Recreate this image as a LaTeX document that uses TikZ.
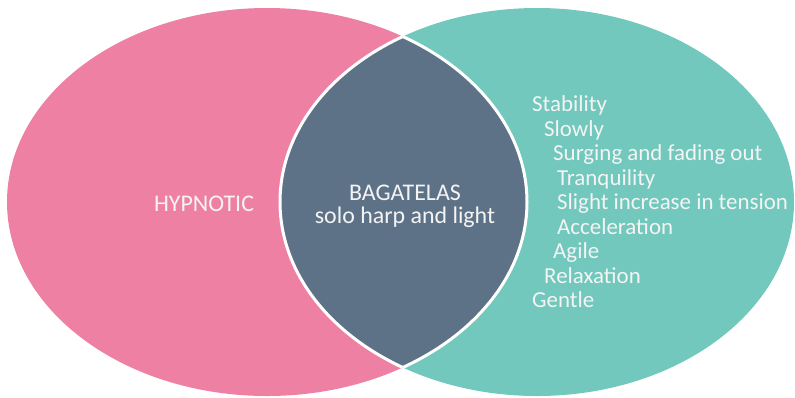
\documentclass[tikz,border=0pt]{standalone}
\usepackage{fontspec}
\setmainfont{Carlito}
\definecolor{pinkset}{HTML}{EE80A4}
\definecolor{tealset}{HTML}{72C8BC}
\definecolor{overlapset}{HTML}{5E7287}
\definecolor{labeltext}{HTML}{F4F4F4}
\begin{document}
\begin{tikzpicture}[x=1bp,y=-1bp,
  label/.style={text=labeltext,font=\fontsize{24}{23}\selectfont,inner sep=0pt,anchor=base},
  item/.style={text=labeltext,font=\fontsize{23}{24}\selectfont,inner sep=0pt,anchor=base west},
  rim/.style={draw=white,line width=3bp}]
\useasboundingbox (0,0) rectangle (795,397);
% the two sets
\fill[pinkset] (267,202) ellipse [x radius=260,y radius=194];
\fill[tealset] (537,202) ellipse [x radius=257,y radius=194];
% their overlap
\begin{scope}
  \clip (267,202) ellipse [x radius=260,y radius=194];
  \fill[overlapset] (537,202) ellipse [x radius=257,y radius=194];
\end{scope}
% white rims along the overlap
\begin{scope}
  \clip (267,202) ellipse [x radius=260,y radius=194];
  \draw[rim] (537,202) ellipse [x radius=257,y radius=194];
\end{scope}
\begin{scope}
  \clip (537,202) ellipse [x radius=257,y radius=194];
  \draw[rim] (267,202) ellipse [x radius=260,y radius=194];
\end{scope}
% labels
\node[label] (hyp) at (204,211) {HYPNOTIC};
\node[label] (bag) at (405,200) {BAGATELAS};
\node[label] (bagsub) at (405,223) {solo harp and light};
\node[item] (i1) at (532,111.7) {Stability};
\node[item] (i2) at (544,136.2) {Slowly};
\node[item] (i3) at (553,160.7) {Surging and fading out};
\node[item] (i4) at (557,185.2) {Tranquility};
\node[item] (i5) at (557,209.7) {Slight increase in tension};
\node[item] (i6) at (557,234.2) {Acceleration};
\node[item] (i7) at (553,258.7) {Agile};
\node[item] (i8) at (544,283.2) {Relaxation};
\node[item] (i9) at (532,307.7) {Gentle};
\end{tikzpicture}
\end{document}
